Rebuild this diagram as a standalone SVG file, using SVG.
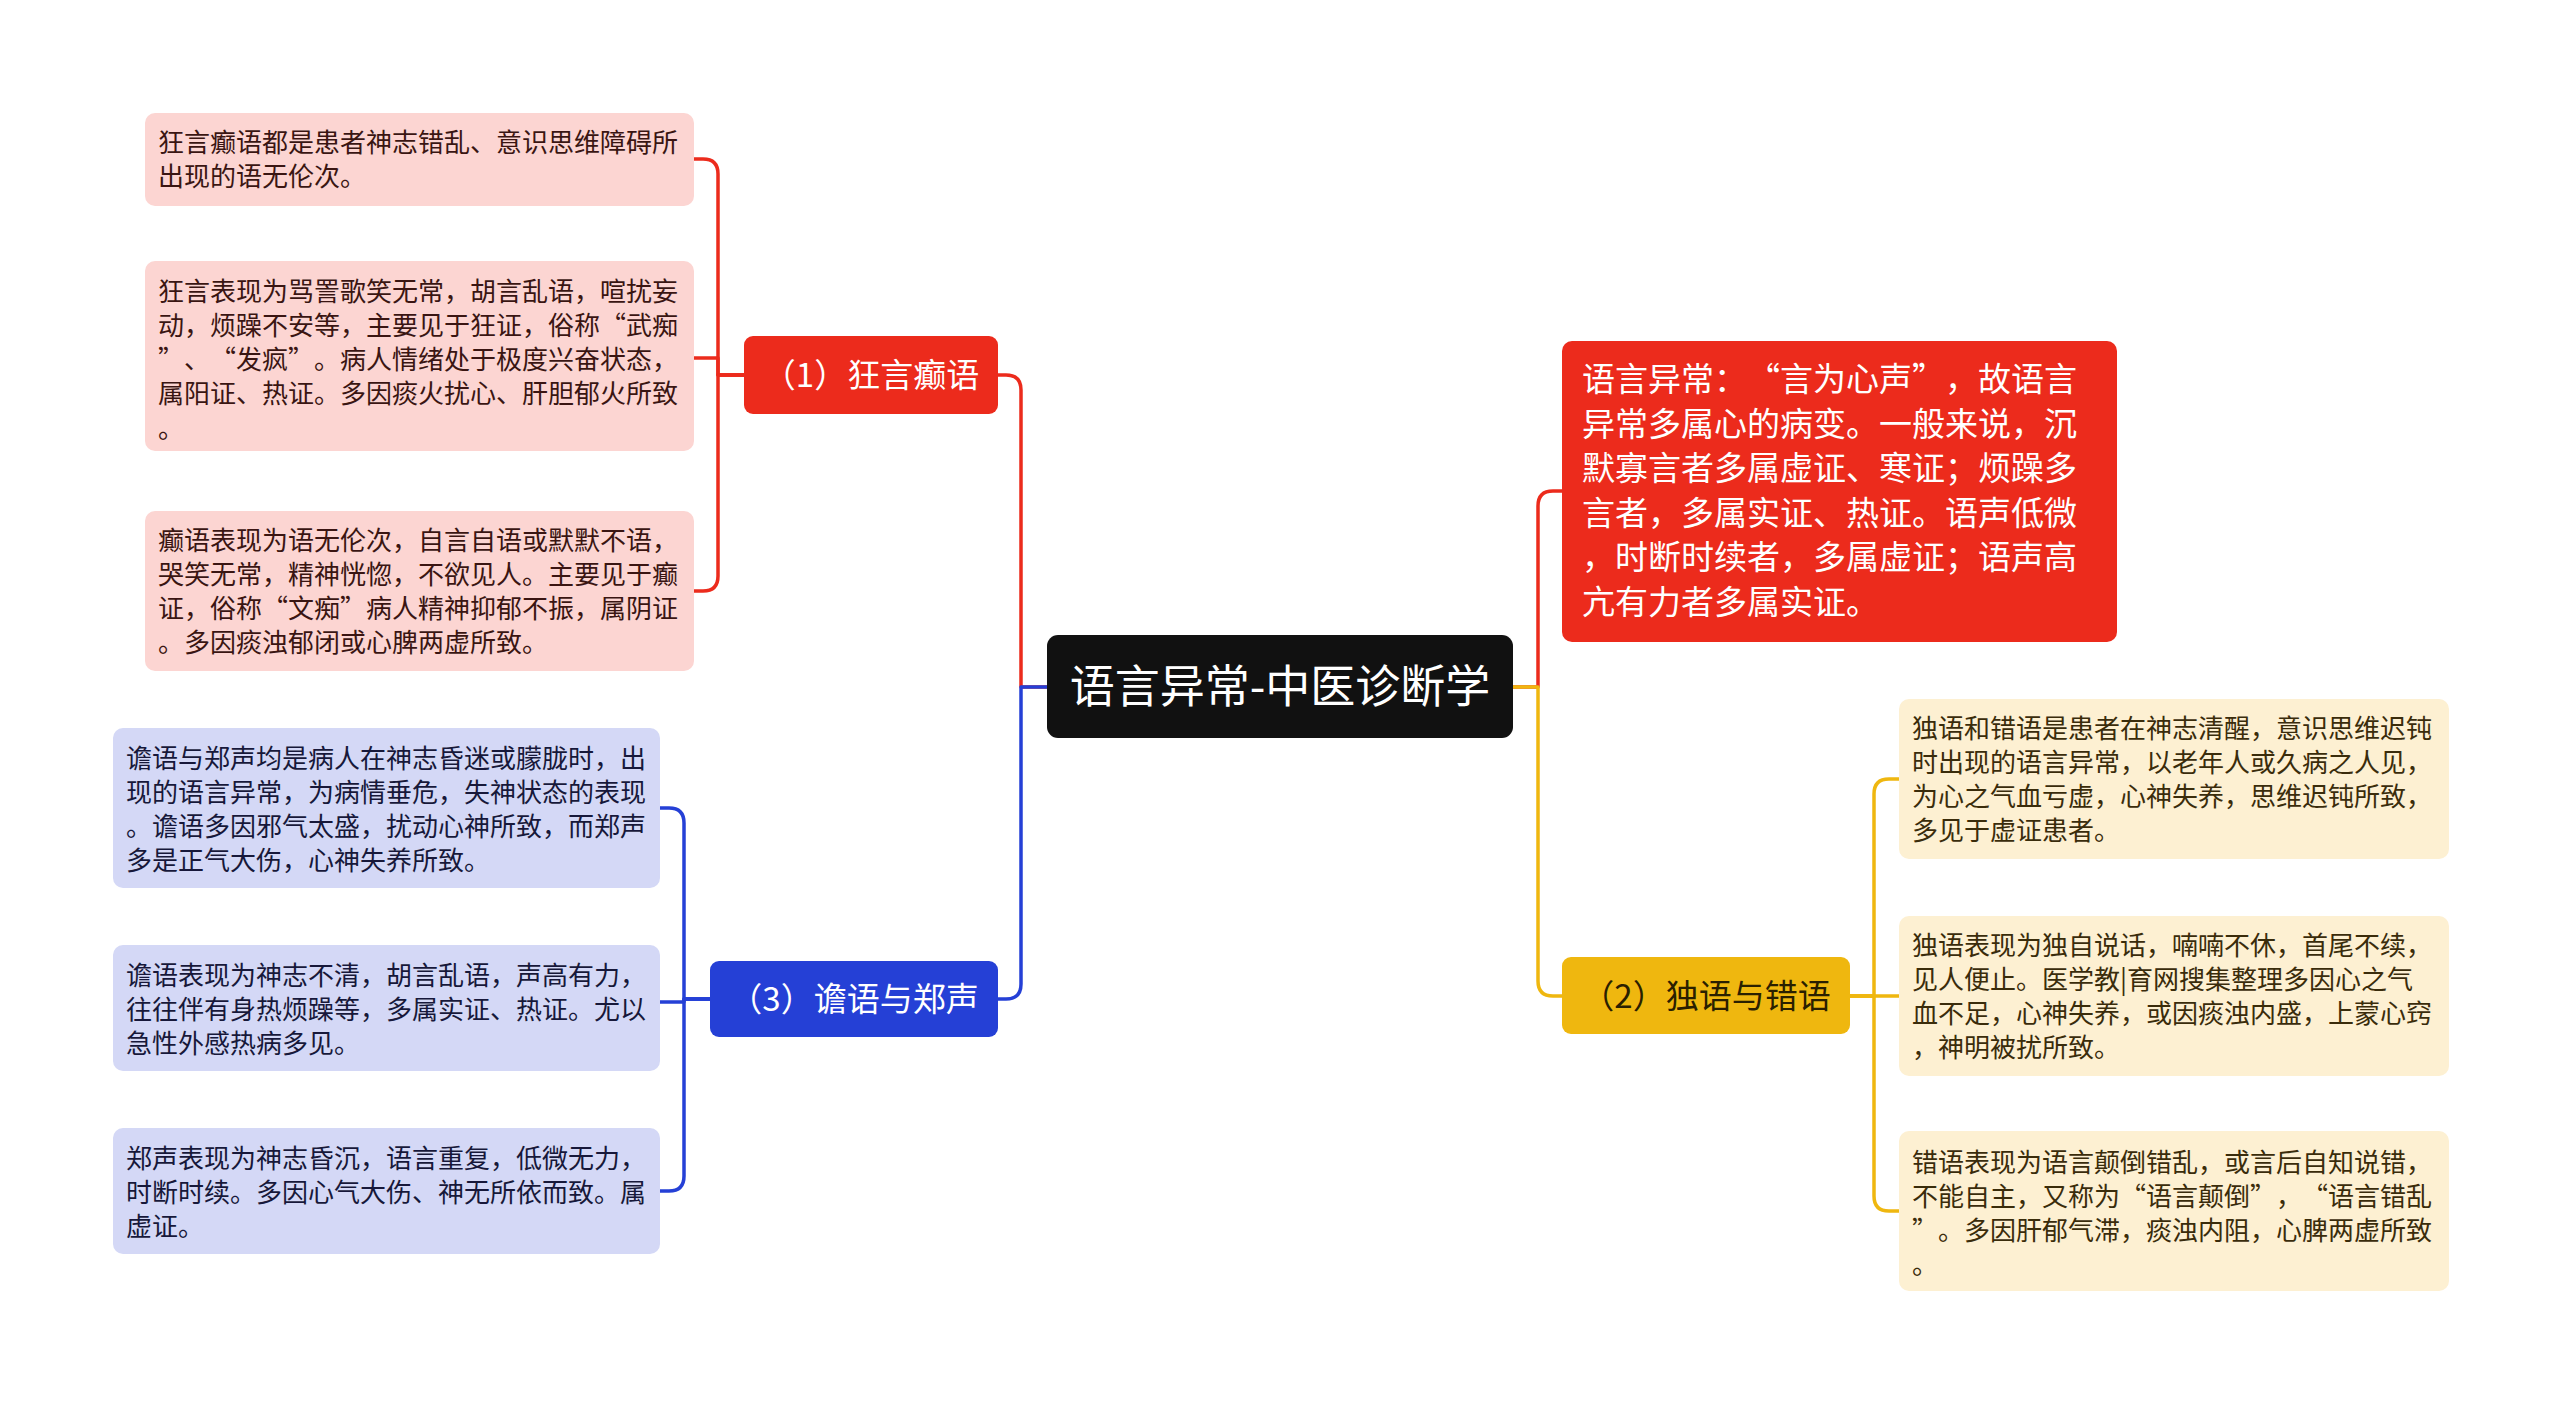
<svg xmlns="http://www.w3.org/2000/svg" width="2560" height="1404" viewBox="0 0 2560 1404">
<style>
text{font-family:"Noto Sans CJK SC","Noto Sans",sans-serif;text-spacing-trim:space-all;}
.conn{fill:none;stroke-width:3.5;stroke-linejoin:round;stroke-linecap:round}
.red{stroke:#ec2b1c}
.blue{stroke:#2540d6}
.yel{stroke:#efb70f}
.leaf{font-size:26px}
.lr rect{fill:#fcd5d2}
.lr text{fill:#3a1512}
.lb rect{fill:#d4d8f6}
.lb text{fill:#17183a}
.ly rect{fill:#fdf0d2}
.ly text{fill:#3a2c0b}
.br{font-size:33px;text-anchor:middle}
</style>
<rect width="2560" height="1404" fill="#ffffff"/>
<g id="connectors">
<path class="conn red" d="M1047,687 H1021 V390 Q1021,375 1006,375 H998"/>
<path class="conn blue" d="M1047,687 H1021 V984 Q1021,999 1006,999 H998"/>
<path class="conn red" d="M1513,687 H1538 V506 Q1538,491 1553,491 H1562"/>
<path class="conn yel" d="M1513,687 H1538 V981 Q1538,996 1553,996 H1562"/>
<path class="conn red" d="M744,375 H718 V174 Q718,159 703,159 H694"/>
<path class="conn red" d="M744,375 H718 V358 H694"/>
<path class="conn red" d="M744,375 H718 V576 Q718,591 703,591 H694"/>
<path class="conn blue" d="M710,999 H684 V823 Q684,808 669,808 H660"/>
<path class="conn blue" d="M710,999 H684 V1002 H660"/>
<path class="conn blue" d="M710,999 H684 V1176 Q684,1191 669,1191 H660"/>
<path class="conn yel" d="M1850,996 H1874 V794 Q1874,779 1889,779 H1899"/>
<path class="conn yel" d="M1850,996 H1899"/>
<path class="conn yel" d="M1850,996 H1874 V1196 Q1874,1211 1889,1211 H1899"/>
</g>
<g id="root">
<rect x="1047" y="635" width="466" height="103" rx="11" fill="#111111"/>
<text x="1280" y="703" font-size="45" fill="#ffffff" text-anchor="middle">语言异常-中医诊断学</text>
</g>
<g id="node-1">
<rect x="744" y="336" width="254" height="78" rx="9" fill="#ec2b1c"/>
<text class="br" x="871" y="387" fill="#ffffff">（1）狂言癫语</text>
</g>
<g id="node-3">
<rect x="710" y="961" width="288" height="76" rx="9" fill="#2540d6"/>
<text class="br" x="854" y="1011" fill="#ffffff">（3）谵语与郑声</text>
</g>
<g id="node-2">
<rect x="1562" y="957" width="288" height="77" rx="9" fill="#efb70f"/>
<text class="br" x="1706" y="1008" fill="#2a2000">（2）独语与错语</text>
</g>
<g id="node-summary">
<rect x="1562" y="341" width="555" height="301" rx="10" fill="#ec2b1c"/>
<text font-size="33" fill="#ffffff">
<tspan x="1582" y="391">语言异常：“言为心声”，故语言</tspan>
<tspan x="1582" y="435.6">异常多属心的病变。一般来说，沉</tspan>
<tspan x="1582" y="480.2">默寡言者多属虚证、寒证；烦躁多</tspan>
<tspan x="1582" y="524.8">言者，多属实证、热证。语声低微</tspan>
<tspan x="1582" y="569.4">，时断时续者，多属虚证；语声高</tspan>
<tspan x="1582" y="614">亢有力者多属实证。</tspan>
</text>
</g>
<g id="leaf-1" class="lr">
<rect x="145" y="113" width="549" height="93" rx="10"/>
<text class="leaf"><tspan x="158" y="151.5">狂言癫语都是患者神志错乱、意识思维障碍所</tspan><tspan x="158" y="185.5">出现的语无伦次。</tspan></text>
</g>
<g id="leaf-2" class="lr">
<rect x="145" y="261" width="549" height="190" rx="10"/>
<text class="leaf"><tspan x="158" y="300.5">狂言表现为骂詈歌笑无常，胡言乱语，喧扰妄</tspan><tspan x="158" y="334.8">动，烦躁不安等，主要见于狂证，俗称“武痴</tspan><tspan x="158" y="369.1">”、“发疯”。病人情绪处于极度兴奋状态，</tspan><tspan x="158" y="403.4">属阳证、热证。多因痰火扰心、肝胆郁火所致</tspan><tspan x="158" y="437.7">。</tspan></text>
</g>
<g id="leaf-3" class="lr">
<rect x="145" y="511" width="549" height="160" rx="10"/>
<text class="leaf"><tspan x="158" y="549.5">癫语表现为语无伦次，自言自语或默默不语，</tspan><tspan x="158" y="583.8">哭笑无常，精神恍惚，不欲见人。主要见于癫</tspan><tspan x="158" y="618.1">证，俗称“文痴”病人精神抑郁不振，属阴证</tspan><tspan x="158" y="652.4">。多因痰浊郁闭或心脾两虚所致。</tspan></text>
</g>
<g id="leaf-4" class="lb">
<rect x="113" y="728" width="547" height="160" rx="10"/>
<text class="leaf"><tspan x="126" y="767.5">谵语与郑声均是病人在神志昏迷或朦胧时，出</tspan><tspan x="126" y="801.8">现的语言异常，为病情垂危，失神状态的表现</tspan><tspan x="126" y="836.1">。谵语多因邪气太盛，扰动心神所致，而郑声</tspan><tspan x="126" y="870.4">多是正气大伤，心神失养所致。</tspan></text>
</g>
<g id="leaf-5" class="lb">
<rect x="113" y="945" width="547" height="126" rx="10"/>
<text class="leaf"><tspan x="126" y="984.5">谵语表现为神志不清，胡言乱语，声高有力，</tspan><tspan x="126" y="1018.8">往往伴有身热烦躁等，多属实证、热证。尤以</tspan><tspan x="126" y="1053.1">急性外感热病多见。</tspan></text>
</g>
<g id="leaf-6" class="lb">
<rect x="113" y="1128" width="547" height="126" rx="10"/>
<text class="leaf"><tspan x="126" y="1167.5">郑声表现为神志昏沉，语言重复，低微无力，</tspan><tspan x="126" y="1201.8">时断时续。多因心气大伤、神无所依而致。属</tspan><tspan x="126" y="1236.1">虚证。</tspan></text>
</g>
<g id="leaf-7" class="ly">
<rect x="1899" y="699" width="550" height="160" rx="10"/>
<text class="leaf"><tspan x="1912" y="737.5">独语和错语是患者在神志清醒，意识思维迟钝</tspan><tspan x="1912" y="771.8">时出现的语言异常，以老年人或久病之人见，</tspan><tspan x="1912" y="806.1">为心之气血亏虚，心神失养，思维迟钝所致，</tspan><tspan x="1912" y="840.4">多见于虚证患者。</tspan></text>
</g>
<g id="leaf-8" class="ly">
<rect x="1899" y="916" width="550" height="160" rx="10"/>
<text class="leaf"><tspan x="1912" y="954.5">独语表现为独自说话，喃喃不休，首尾不续，</tspan><tspan x="1912" y="988.8">见人便止。医学教|育网搜集整理多因心之气</tspan><tspan x="1912" y="1023.1">血不足，心神失养，或因痰浊内盛，上蒙心窍</tspan><tspan x="1912" y="1057.4">，神明被扰所致。</tspan></text>
</g>
<g id="leaf-9" class="ly">
<rect x="1899" y="1131" width="550" height="160" rx="10"/>
<text class="leaf"><tspan x="1912" y="1171.5">错语表现为语言颠倒错乱，或言后自知说错，</tspan><tspan x="1912" y="1205.8">不能自主，又称为“语言颠倒”，“语言错乱</tspan><tspan x="1912" y="1240.1">”。多因肝郁气滞，痰浊内阻，心脾两虚所致</tspan><tspan x="1912" y="1274.4">。</tspan></text>
</g>
</svg>
